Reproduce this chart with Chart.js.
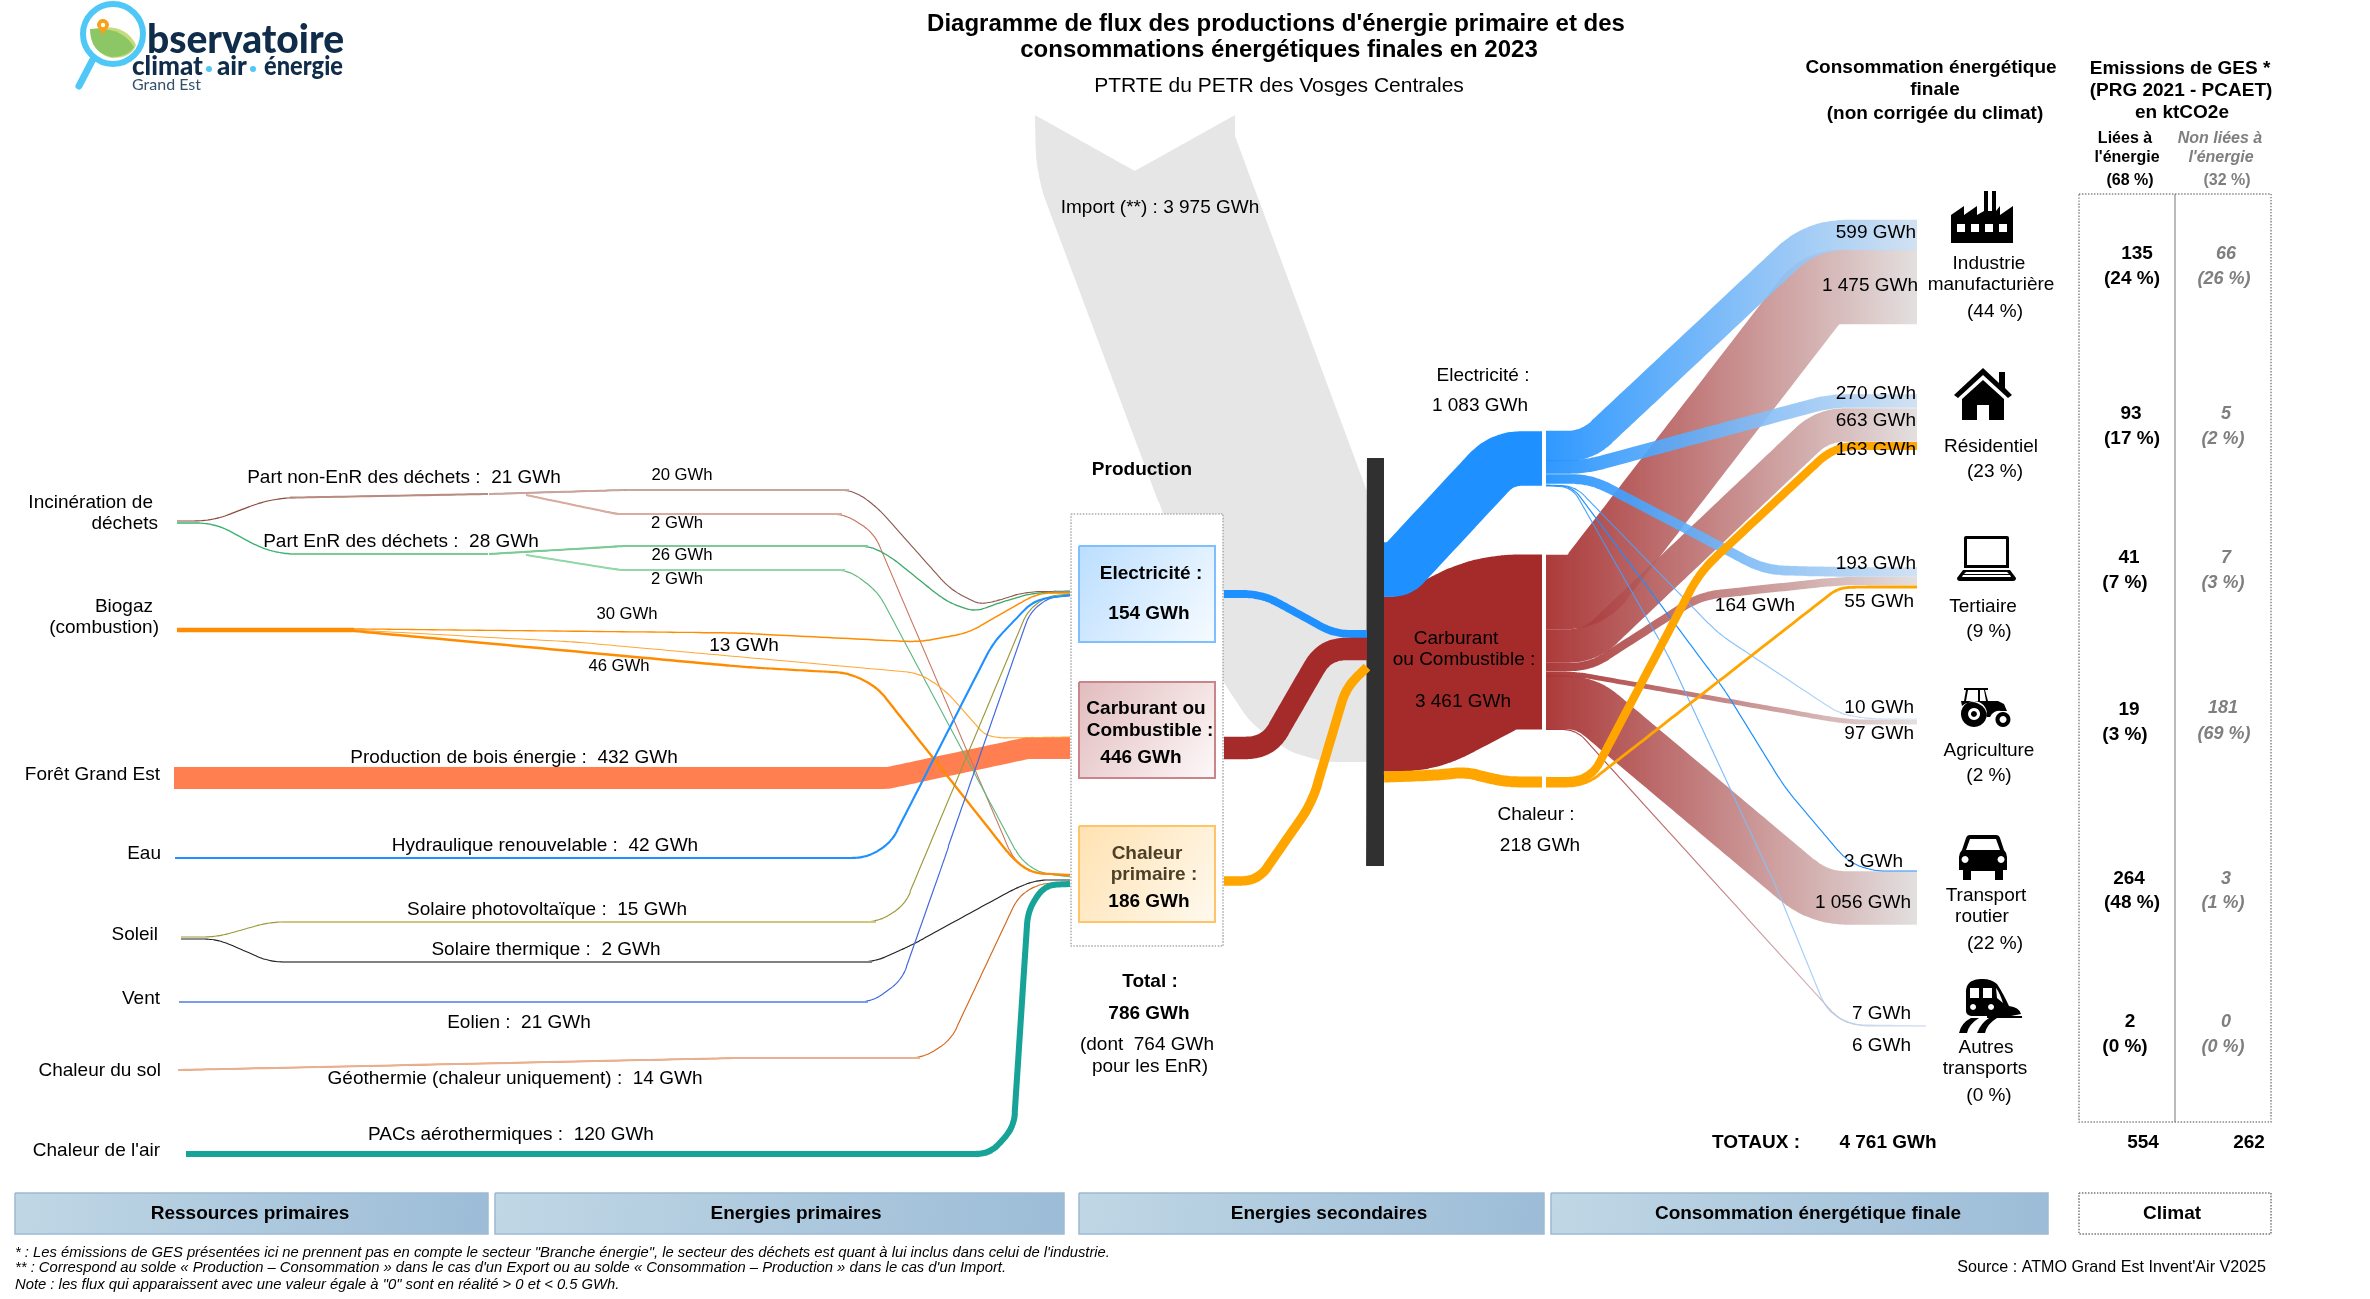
<!DOCTYPE html>
<html lang="fr">
<head>
<meta charset="utf-8">
<title>Diagramme de flux énergie 2023</title>
<script src="https://cdn.jsdelivr.net/npm/chart.js@4/dist/chart.umd.min.js"></script>
<style>
html, body { margin: 0; padding: 0; background: #fff; }
canvas { display: block; }
</style>
</head>
<body>
<canvas id="sankey" width="2370" height="1299"></canvas>
<script>
const wasteNonEnr = [21, 20, 2];
const wasteEnr = [28, 26, 2];
const biogas = [89, 30, 13, 46];
const wood = 432;
const hydro = 42;
const solarPv = 15;
const solarThermal = 2;
const wind = 21;
const geothermal = 14;
const airHeat = 120;
const primaryNames = ['Electricité', 'Carburant ou Combustible', 'Chaleur primaire'];
const primaryValues = [154, 446, 186];
const secondaryValues = [1083, 3461, 218];
const importValue = 3975;
const productionTotal = 786;
const productionEnr = 764;
const finalTotal = 4761;

const sectorLines = [['Industrie', 'manufacturière'], ['Résidentiel'], ['Tertiaire'], ['Agriculture'], ['Transport', 'routier'], ['Autres', 'transports']];
const sectorShare = [44, 23, 9, 2, 22, 0];
const elecBySector = [599, 270, 193, 10, 3, 7];
const fuelBySector = [1475, 663, 164, 97, 1056, 6];
const heatBySector = [163, 55];

const gesEnergy = [135, 93, 41, 19, 264, 2];
const gesEnergyShare = [24, 17, 7, 3, 48, 0];
const gesOther = [66, 5, 7, 181, 3, 0];
const gesOtherShare = [26, 2, 3, 69, 1, 0];
const gesTotals = [554, 262];
const gesSplit = [68, 32];

const stageNames = ['Ressources primaires', 'Energies primaires', 'Energies secondaires', 'Consommation énergétique finale', 'Climat'];

// 19,8 GWh pour un pixel d'épaisseur
const GWH_PER_PX = 19.8;

const canvas = document.getElementById('sankey');
const ctx = canvas.getContext('2d');

function linear(x0, y0, x1, y1, c0, c1) {
    const g = ctx.createLinearGradient(x0, y0, x1, y1);
    g.addColorStop(0, c0);
    g.addColorStop(1, c1);
    return g;
}

// arrondit les angles du tracé
function rounded(pts, r) {
    const out = [{x: pts[0][0], y: pts[0][1]}];
    for (let i = 1; i < pts.length - 1; i++) {
        const [ax, ay] = pts[i - 1], [bx, by] = pts[i], [cx, cy] = pts[i + 1];
        const l1 = Math.hypot(ax - bx, ay - by), l2 = Math.hypot(cx - bx, cy - by);
        const rr = Math.min(r, l1 / 2, l2 / 2);
        const sx = bx + (ax - bx) * rr / l1, sy = by + (ay - by) * rr / l1;
        const ex = bx + (cx - bx) * rr / l2, ey = by + (cy - by) * rr / l2;
        for (let k = 0; k <= 10; k++) {
            const t = k / 10, u = 1 - t;
            out.push({x: u * u * sx + 2 * u * t * bx + t * t * ex, y: u * u * sy + 2 * u * t * by + t * t * ey});
        }
    }
    const last = pts[pts.length - 1];
    out.push({x: last[0], y: last[1]});
    return out;
}

const datasets = [];

function addShape(data, background, extra) {
    datasets.push(Object.assign({type: 'line', data, backgroundColor: background, fill: 'shape'}, extra || {}));
}

function flow(route, value, color, radius) {
    const path = rounded(route, radius === undefined ? 26 : radius);
    const half = Math.max(value / GWH_PER_PX, 1.15) / 2;
    const up = [], down = [];
    path.forEach((p, i) => {
        const a = path[Math.max(i - 1, 0)], b = path[Math.min(i + 1, path.length - 1)];
        const len = Math.hypot(b.x - a.x, b.y - a.y) || 1;
        const nx = (b.y - a.y) / len, ny = -(b.x - a.x) / len;
        up.push({x: p.x + nx * half, y: p.y + ny * half});
        down.unshift({x: p.x - nx * half, y: p.y - ny * half});
    });
    addShape(up.concat(down), color);
}

// partie droite des petits flux : trait plus large et plus clair
function casing(route, color) {
    flow(route, 2.2 * GWH_PER_PX, color, 0);
}

function box(x0, y0, x1, y1, background, border, dash, width) {
    const data = [{x: x0, y: y0}, {x: x1, y: y0}, {x: x1, y: y1}, {x: x0, y: y1}, {x: x0, y: y0}];
    addShape(data, background, {borderColor: border || 'rgba(0,0,0,0)', borderWidth: border ? (width || 2) : 0, borderDash: dash || []});
}

const BLUE = '#1E90FF', BROWN = '#A52A2A', ORANGE = '#FFA500', BIO = '#FF8C00';

// import, en fond
const importTop = [[1035, 115], [1135, 171], [1235, 115], [1235, 136], [1367, 490], [1378, 562], [1380, 562]];
const importBottom = [[1380, 762], [1325, 762], [1290, 752], [1250, 722], [1222, 680], [1163, 513], [1042, 191], [1036, 160], [1035, 115]];
addShape(rounded(importTop, 0).concat(rounded(importBottom, 12)), '#E6E6E6');

box(1071, 514, 1223, 946, '#FFFFFF', '#AAAAAA', [1.5, 1.5], 1.5);
box(1367, 458, 1384, 866, '#303030');

// noeuds de production
box(1079, 546, 1215, 642, linear(1079, 546, 1215, 642, '#BBDEFF', '#F6FBFF'), '#7FBFFF');
box(1079, 682, 1215, 778, linear(1079, 682, 1215, 778, '#E2BCBE', '#FDF8F8'), '#C98589');
box(1079, 826, 1215, 922, linear(1079, 826, 1215, 922, '#FFE2B2', '#FFF9EE'), '#FFC469');

// ressources vers énergies primaires
flow([[174, 778], [888, 778], [1028, 748], [1070, 748]], wood, '#FF7F50', 4);
flow([[177, 521], [212, 521], [272, 498], [488, 494]], wasteNonEnr[0], '#8B4A3F', 24);
casing([[290, 497.7], [488, 494]], '#B98C80');
flow([[489, 494], [625, 490], [853, 490], [877, 507], [951, 590], [979, 604], [993, 602], [1025, 592], [1070, 591]], wasteNonEnr[1], '#8E5A4E', 14);
casing([[489, 494], [625, 490], [849, 490]], '#C9A59E');
flow([[526, 495], [617, 514], [845, 514], [874, 533], [1014, 860], [1032, 873], [1070, 876]], wasteNonEnr[2], '#C8755F', 14);
casing([[526, 495], [617, 514], [842, 514]], '#D8ADA0');
flow([[177, 523], [215, 523], [272, 554], [488, 554]], wasteEnr[0], '#3CB371', 24);
casing([[290, 554], [488, 554]], '#7CCB94');
flow([[489, 554], [625, 546], [870, 546], [891, 557], [947, 602], [975, 612], [996, 604], [1032, 593], [1070, 592]], wasteEnr[1], '#3CA868', 14);
casing([[489, 554], [625, 546], [868, 546]], '#7CCB94');
flow([[526, 555], [620, 570], [849, 570], [878, 592], [1021, 860], [1040, 873], [1070, 877]], wasteEnr[2], '#5FB87E', 14);
casing([[526, 555], [620, 570], [845, 570]], '#94D8AA');
flow([[177, 630], [354, 630]], biogas[0], BIO, 0);
flow([[354, 629], [737, 633], [919, 642], [968, 633], [1038, 593], [1070, 593]], biogas[1], BIO, 14);
flow([[354, 630], [575, 642], [919, 673], [945, 690], [985, 735], [1000, 738], [1070, 737]], biogas[2], '#FFA733', 14);
flow([[354, 631], [744, 667], [849, 673], [877, 687], [1014, 860], [1032, 873], [1070, 875]], biogas[3], BIO, 14);
flow([[181, 937], [217, 937], [270, 922], [878, 922], [905, 905], [1028, 610], [1048, 596], [1070, 594]], solarPv, '#9E9A3A', 14);
casing([[282, 922], [876, 922]], '#CFC77F');
flow([[181, 939], [217, 939], [270, 962], [874, 962], [912, 945], [1018, 887], [1038, 880], [1070, 880]], solarThermal, '#222222', 14);
casing([[282, 962], [872, 962]], '#808080');
flow([[179, 1002], [872, 1002], [902, 980], [944, 860], [1030, 612], [1050, 597], [1070, 596]], wind, '#4169E1', 14);
casing([[179, 1002], [868, 1002]], '#7C9CEB');
flow([[178, 1070], [737, 1058], [923, 1058], [951, 1040], [1018, 897], [1038, 884], [1070, 882]], geothermal, '#D2691E', 14);
casing([[178, 1070], [737, 1058], [920, 1058]], '#E8B090');
flow([[175, 858], [866, 858], [891, 843], [993, 643], [1034, 600], [1070, 595]], hydro, BLUE, 14);
flow([[186, 1154], [990, 1154], [1014, 1127], [1028, 910], [1045, 885], [1070, 884]], airHeat, '#17A398', 14);

// énergies primaires vers la barre
flow([[1224, 594], [1262, 594], [1335, 634], [1367, 634]], primaryValues[0], BLUE, 22);
flow([[1224, 748], [1268, 748], [1325, 649], [1367, 649]], primaryValues[1], BROWN, 28);
flow([[1224, 881], [1258, 881], [1312, 803], [1346, 688], [1367, 667]], primaryValues[2], ORANGE, 20);

// énergies secondaires
flow([[1384, 684], [1415, 684], [1495, 642], [1542, 642]], secondaryValues[1], BROWN, 40);
flow([[1384, 569.5], [1399, 569.5], [1502, 458.5], [1542, 458.5]], secondaryValues[0], BLUE, 32);
flow([[1384, 777], [1440, 775], [1465, 772], [1505, 782], [1542, 782]], secondaryValues[2], ORANGE, 16);

// vers la consommation finale
function fade(c0, c1) { return linear(1546, 0, 1917, 0, c0, c1); }
const fuelFade = fade('rgba(165,42,42,0.92)', 'rgba(226,222,222,0.95)');
const elecFade = fade('rgba(30,144,255,0.92)', 'rgba(205,222,240,0.9)');

flow([[1546, 592], [1586, 592], [1821, 287], [1917, 287]], fuelBySector[0], fuelFade, 20);
flow([[1546, 646], [1590, 646], [1823, 425], [1917, 425]], fuelBySector[1], fuelFade, 22);
flow([[1546, 702.5], [1586, 702.5], [1819, 898], [1917, 898]], fuelBySector[4], fuelFade, 28);
flow([[1546, 667], [1590, 667], [1700, 596], [1840, 581], [1917, 581]], fuelBySector[2], fuelFade, 20);
flow([[1546, 674], [1576, 674], [1847, 722], [1917, 722]], fuelBySector[3], fuelFade, 20);
flow([[1546, 729.5], [1576, 729.5], [1840, 1020], [1860, 1026], [1926, 1026]], fuelBySector[5], fuelFade, 14);

flow([[1546, 446], [1587, 446], [1812, 235], [1917, 235]], elecBySector[0], elecFade, 34);
flow([[1546, 467], [1585, 467], [1830, 401], [1917, 401]], elecBySector[1], elecFade, 18);
flow([[1546, 479], [1591, 479], [1765, 570], [1840, 572], [1917, 572]], elecBySector[2], elecFade, 20);
flow([[1546, 485], [1575, 486], [1719, 634], [1840, 714], [1870, 719], [1917, 719]], elecBySector[3], fade('rgba(30,144,255,0.9)', 'rgba(215,228,245,0.9)'), 14);
flow([[1546, 485.5], [1572, 486], [1724, 689], [1786, 789], [1847, 861], [1872, 871], [1917, 871]], elecBySector[4], BLUE, 14);
flow([[1546, 486], [1572, 487], [1668, 655], [1775, 884], [1827, 1011], [1852, 1025], [1926, 1026]], elecBySector[5], fade('rgba(30,144,255,0.9)', 'rgba(210,225,245,0.9)'), 14);

flow([[1546, 781], [1590, 781], [1700, 572], [1835, 446], [1917, 446]], heatBySector[0], ORANGE, 22);
flow([[1546, 786], [1585, 786], [1838, 588], [1860, 587], [1917, 587]], heatBySector[1], ORANGE, 18);

// bandeaux du bas et cadre des émissions
[[15, 488], [495, 1064], [1079, 1544], [1551, 2048]].forEach(([a, b]) => {
    box(a, 1193, b, 1234, linear(a, 1193, b, 1234, '#C0D7E5', '#9CBCD7'), '#9DBAD2', [], 1.5);
});
box(2079, 1193, 2271, 1234, '#FFFFFF', '#777777', [1.5, 1.5], 1.5);
box(2079, 194, 2271, 1122, 'rgba(255,255,255,0)', '#888888', [1.5, 1.5], 1.5);
box(2174.5, 194, 2175.5, 1122, '#777777');

// première série = dessinée en dernier avec Chart.js
datasets.reverse();

function gwh(v) {
    return String(v).replace(/\B(?=(\d{3})+$)/g, ' ') + ' GWh';
}

const SANS = '"Liberation Sans", Arial, sans-serif';
const FONT = {
    reg: '19px ' + SANS,
    small: '16.7px ' + SANS,
    bold: 'bold 19px ' + SANS,
    head: 'bold 19px ' + SANS,
    title: 'bold 24px ' + SANS,
    sub: '21px ' + SANS,
    mini: 'bold 16px ' + SANS,
    miniIt: 'italic bold 16px ' + SANS,
    ges: 'bold 19px ' + SANS,
    gesIt: 'italic bold 18px ' + SANS,
    note: 'italic 14.8px ' + SANS,
    source: '16.1px ' + SANS
};
const GREY = '#7F7F7F';

// [texte, x, y, police, alignement, couleur]
const texts = [
    ['Diagramme de flux des productions d\'énergie primaire et des', 1276, 24, 'title'],
    ['consommations énergétiques finales en 2023', 1279, 50, 'title'],
    ['PTRTE du PETR des Vosges Centrales', 1279, 86, 'sub'],

    ['Incinération de', 153, 502, 'reg', 'right'],
    ['déchets', 158, 523, 'reg', 'right'],
    ['Biogaz', 153, 606, 'reg', 'right'],
    ['(combustion)', 159, 627, 'reg', 'right'],
    ['Forêt Grand Est', 160, 774, 'reg', 'right'],
    ['Eau', 161, 853, 'reg', 'right'],
    ['Soleil', 158, 934, 'reg', 'right'],
    ['Vent', 160, 998, 'reg', 'right'],
    ['Chaleur du sol', 161, 1070, 'reg', 'right'],
    ['Chaleur de l\'air', 160, 1150, 'reg', 'right'],

    ['Part non-EnR des déchets :  ' + gwh(wasteNonEnr[0]), 404, 477, 'reg'],
    ['Part EnR des déchets :  ' + gwh(wasteEnr[0]), 401, 541, 'reg'],
    [gwh(wasteNonEnr[1]), 682, 475, 'small'],
    [gwh(wasteNonEnr[2]), 677, 523, 'small'],
    [gwh(wasteEnr[1]), 682, 555, 'small'],
    [gwh(wasteEnr[2]), 677, 579, 'small'],
    [gwh(biogas[1]), 627, 614, 'small'],
    [gwh(biogas[2]), 744, 645, 'reg'],
    [gwh(biogas[3]), 619, 666, 'small'],
    ['Production de bois énergie :  ' + gwh(wood), 514, 757, 'reg'],
    ['Hydraulique renouvelable :  ' + gwh(hydro), 545, 845, 'reg'],
    ['Solaire photovoltaïque :  ' + gwh(solarPv), 547, 909, 'reg'],
    ['Solaire thermique :  ' + gwh(solarThermal), 546, 949, 'reg'],
    ['Eolien :  ' + gwh(wind), 519, 1022, 'reg'],
    ['Géothermie (chaleur uniquement) :  ' + gwh(geothermal), 515, 1078, 'reg'],
    ['PACs aérothermiques :  ' + gwh(airHeat), 511, 1134, 'reg'],

    ['Production', 1142, 469, 'bold'],
    [primaryNames[0] + ' :', 1151, 573, 'bold'],
    [gwh(primaryValues[0]), 1149, 613, 'bold'],
    ['Carburant ou', 1146, 708, 'bold'],
    ['Combustible :', 1150, 730, 'bold'],
    [gwh(primaryValues[1]), 1141, 757, 'bold'],
    ['Chaleur', 1147, 853, 'bold', 'center', '#4D4027'],
    ['primaire :', 1154, 874, 'bold', 'center', '#4D4027'],
    [gwh(primaryValues[2]), 1149, 901, 'bold'],
    ['Total :', 1150, 981, 'bold'],
    [gwh(productionTotal), 1149, 1013, 'bold'],
    ['(dont  ' + gwh(productionEnr), 1147, 1044, 'reg'],
    ['pour les EnR)', 1150, 1066, 'reg'],

    ['Import (**) : ' + gwh(importValue), 1160, 207, 'reg'],
    ['Electricité :', 1483, 375, 'reg'],
    [gwh(secondaryValues[0]), 1480, 405, 'reg'],
    ['Carburant', 1456, 638, 'reg'],
    ['ou Combustible :', 1464, 659, 'reg'],
    [gwh(secondaryValues[1]), 1463, 701, 'reg'],
    ['Chaleur :', 1536, 814, 'reg'],
    [gwh(secondaryValues[2]), 1540, 845, 'reg'],

    [gwh(elecBySector[0]), 1916, 232, 'reg', 'right'],
    [gwh(fuelBySector[0]), 1918, 285, 'reg', 'right'],
    [gwh(elecBySector[1]), 1916, 393, 'reg', 'right'],
    [gwh(fuelBySector[1]), 1916, 420, 'reg', 'right'],
    [gwh(heatBySector[0]), 1916, 449, 'reg', 'right'],
    [gwh(elecBySector[2]), 1916, 563, 'reg', 'right'],
    [gwh(fuelBySector[2]), 1755, 605, 'reg'],
    [gwh(heatBySector[1]), 1914, 601, 'reg', 'right'],
    [gwh(elecBySector[3]), 1914, 707, 'reg', 'right'],
    [gwh(fuelBySector[3]), 1914, 733, 'reg', 'right'],
    [gwh(elecBySector[4]), 1903, 861, 'reg', 'right'],
    [gwh(fuelBySector[4]), 1911, 902, 'reg', 'right'],
    [gwh(elecBySector[5]), 1911, 1013, 'reg', 'right'],
    [gwh(fuelBySector[5]), 1911, 1045, 'reg', 'right'],

    ['Consommation énergétique', 1931, 67, 'head'],
    ['finale', 1935, 89, 'head'],
    ['(non corrigée du climat)', 1935, 113, 'head'],
    ['Emissions de GES *', 2180, 68, 'head'],
    ['(PRG 2021 - PCAET)', 2181, 90, 'head'],
    ['en ktCO2e', 2182, 112, 'head'],
    ['Liées à', 2125, 138, 'mini'],
    ['l\'énergie', 2127, 157, 'mini'],
    ['(' + gesSplit[0] + ' %)', 2130, 180, 'mini'],
    ['Non liées à', 2220, 138, 'miniIt', 'center', GREY],
    ['l\'énergie', 2221, 157, 'miniIt', 'center', GREY],
    ['(' + gesSplit[1] + ' %)', 2227, 180, 'mini', 'center', GREY],

    ['TOTAUX :', 1756, 1142, 'bold'],
    [gwh(finalTotal), 1888, 1142, 'bold'],
    [String(gesTotals[0]), 2143, 1142, 'bold'],
    [String(gesTotals[1]), 2249, 1142, 'bold'],

    [stageNames[0], 250, 1213, 'bold'],
    [stageNames[1], 796, 1213, 'bold'],
    [stageNames[2], 1329, 1213, 'bold'],
    [stageNames[3], 1808, 1213, 'bold'],
    [stageNames[4], 2172, 1213, 'bold'],

    ['* : Les émissions de GES présentées ici ne prennent pas en compte le secteur "Branche énergie", le secteur des déchets est quant à lui inclus dans celui de l\'industrie.', 15, 1252, 'note', 'left'],
    ['** : Correspond au solde « Production – Consommation » dans le cas d\'un Export ou au solde « Consommation – Production » dans le cas d\'un Import.', 15, 1267, 'note', 'left'],
    ['Note : les flux qui apparaissent avec une valeur égale à "0" sont en réalité > 0 et < 0.5 GWh.', 15, 1284, 'note', 'left'],
    ['Source : ATMO Grand Est Invent\'Air V2025', 2266, 1267, 'source', 'right']
];

// libellés des secteurs : [x, y] ligne par ligne, puis la part
const sectorNamePos = [[[1989, 263], [1991, 284]], [[1991, 446]], [[1983, 606]], [[1989, 750]], [[1986, 895], [1982, 916]], [[1986, 1047], [1985, 1068]]];
const sectorSharePos = [[1995, 311], [1995, 471], [1989, 631], [1989, 775], [1995, 943], [1989, 1095]];
sectorLines.forEach((lines, i) => {
    lines.forEach((line, j) => texts.push([line, sectorNamePos[i][j][0], sectorNamePos[i][j][1], 'reg']));
    texts.push(['(' + sectorShare[i] + ' %)', sectorSharePos[i][0], sectorSharePos[i][1], 'reg']);
});

// émissions par secteur
const gesRowY = [[253, 278], [413, 438], [557, 582], [709, 734], [878, 902], [1021, 1046]];
const gesValX = [2137, 2131, 2129, 2129, 2129, 2130];
const gesPctX = [2132, 2132, 2125, 2125, 2132, 2125];
const gesOtherValX = [2226, 2226, 2226, 2223, 2226, 2226];
const gesOtherPctX = [2224, 2223, 2223, 2224, 2223, 2223];
gesEnergy.forEach((v, i) => {
    const y = gesRowY[i];
    texts.push([String(v), gesValX[i], y[0], 'ges']);
    texts.push(['(' + gesEnergyShare[i] + ' %)', gesPctX[i], y[1], 'ges']);
    texts.push([String(gesOther[i]), gesOtherValX[i], y[0] - (i === 3 ? 2 : 0), 'gesIt', 'center', GREY]);
    texts.push(['(' + gesOtherShare[i] + ' %)', gesOtherPctX[i], y[1] - (i === 3 ? 1 : 0), 'gesIt', 'center', GREY]);
});

// pictogrammes : [x, y, largeur, hauteur du dessin, chemin]
const icons = [
    [1951, 191, 62, 52, 'M0 52V24L13 15V24L26 15V24L33 20V0H37V20H41V0H45V20L49 15V24L62 15V52ZM6 33V41H14V33ZM20 33V41H28V33ZM34 33V41H42V33ZM48 33V41H56V33Z'],
    [1954, 368, 58, 52, 'M0 27L29 0L45 15V4H51V20L58 27L54 30L29 7L4 30ZM8 31L29 12L50 31V52H35V37H23V52H8Z'],
    [1957, 536, 59, 45, 'M9 0H50Q52 0 52 2V32H7V2Q7 0 9 0ZM10 3V29H49V3ZM6 34H53L59 42Q59 45 56 45H3Q0 45 0 42ZM9 36L7 38H52L50 36ZM6 39L5 41H54L53 39Z'],
    [1957, 688, 55, 39, 'M7 0H31V2H28L31 13H41L47 16L50 23H44A10 10 0 0 0 33 29H30A15 15 0 0 0 5 18L4 13H7L9 2H7ZM11 2L9 13H21V2ZM23 2V13H29L27 2ZM17 13A13 13 0 1 1 16.9 13ZM17 20A6 6 0 1 0 17.1 20ZM17 23A3 3 0 1 1 16.9 23ZM46 24A7.5 7.5 0 1 1 45.9 24ZM46 28A3.5 3.5 0 1 0 46.1 28Z'],
    [1959, 835, 48, 45, 'M11 0H37Q40 0 41 3L45 15Q48 18 48 22V35H44V45H36V36H12V45H4V35H0V22Q0 18 3 15L7 3Q8 0 11 0ZM11 4L7 15H41L37 4ZM6 21A3.5 3.5 0 1 0 6.1 21ZM42 21A3.5 3.5 0 1 0 42.1 21Z'],
    [1959, 979, 63, 54, 'M24 0C10 0 7 6 7 14V32Q7 36 12 37H52L62 35Q60 28 50 27Q44 14 38 5Q32 0 24 0ZM11 9H20V19H11ZM24 9H33V19H24ZM37 9Q41 14 44 24L38 19ZM14 25A3 3 0 1 0 14.1 25ZM32 25A3 3 0 1 0 32.1 25ZM0 54Q2 44 12 39H20Q10 45 8 54ZM18 54Q22 44 30 39H38Q28 45 26 54ZM28 39H63V37H28Z']
];

function drawLogo(c) {
    c.save();
    c.lineCap = 'round';
    c.strokeStyle = '#4FC7F7';
    c.lineWidth = 7;
    c.beginPath();
    c.moveTo(92, 61);
    c.lineTo(79, 86);
    c.stroke();
    c.lineWidth = 6;
    c.beginPath();
    c.arc(113, 34, 30, 0, Math.PI * 2);
    c.stroke();
    c.fillStyle = '#C6DB7C';
    c.beginPath();
    c.moveTo(92, 29);
    c.quadraticCurveTo(125, 22, 136, 45);
    c.quadraticCurveTo(132, 58, 112, 58);
    c.quadraticCurveTo(92, 54, 92, 29);
    c.fill();
    c.fillStyle = '#8CC665';
    c.beginPath();
    c.moveTo(90, 29);
    c.quadraticCurveTo(122, 26, 134, 47);
    c.quadraticCurveTo(128, 57, 111, 57);
    c.quadraticCurveTo(90, 52, 90, 29);
    c.fill();
    c.fillStyle = '#F7A11B';
    c.beginPath();
    c.arc(103, 25, 6, Math.PI * 0.95, Math.PI * 2.05);
    c.lineTo(103, 35);
    c.closePath();
    c.fill();
    c.fillStyle = '#FFFFFF';
    c.beginPath();
    c.arc(103, 25, 2.2, 0, Math.PI * 2);
    c.fill();
    c.restore();
    c.save();
    c.fillStyle = '#0F2C4A';
    c.textAlign = 'left';
    c.textBaseline = 'alphabetic';
    c.font = '900 39px Lato, sans-serif';
    c.fillText('bservatoire', 147, 53, 197);
    c.font = '900 26px Lato, sans-serif';
    c.fillText('climat', 132, 75, 71);
    c.fillText('air', 217, 75, 31);
    c.fillText('énergie', 264, 75, 79);
    c.font = '16px Lato, sans-serif';
    c.fillStyle = '#33506B';
    c.fillText('Grand Est', 132, 90);
    c.fillStyle = '#4FC7F7';
    c.beginPath();
    c.arc(209, 69, 3, 0, Math.PI * 2);
    c.arc(253, 69, 3, 0, Math.PI * 2);
    c.fill();
    c.restore();
}

const TEXT_SHIFT = 0.7;

const overlay = {
    id: 'overlay',
    afterDatasetsDraw(chart) {
        const c = chart.ctx;
        const px = chart.scales.x, py = chart.scales.y;
        drawLogo(c);
        icons.forEach(([x, y, w, h, d]) => {
            c.save();
            c.translate(px.getPixelForValue(x), py.getPixelForValue(y));
            c.fillStyle = '#000000';
            c.fill(new Path2D(d), 'evenodd');
            c.restore();
        });
        c.textBaseline = 'middle';
        texts.forEach(([text, x, y, font, align, color]) => {
            c.font = FONT[font];
            c.textAlign = align || 'center';
            c.fillStyle = color || '#000000';
            c.fillText(text, px.getPixelForValue(x), py.getPixelForValue(y + TEXT_SHIFT));
        });
    }
};

new Chart(ctx, {
    type: 'line',
    data: {datasets},
    plugins: [overlay],
    options: {
        responsive: false,
        animation: false,
        events: [],
        layout: {padding: 0},
        elements: {
            point: {radius: 0},
            line: {tension: 0.0001, borderWidth: 0, borderColor: 'rgba(0,0,0,0)'}
        },
        plugins: {legend: {display: false}, tooltip: {enabled: false}, title: {display: false}},
        scales: {
            x: {type: 'linear', min: 0, max: 2370, display: false},
            y: {type: 'linear', min: 0, max: 1299, reverse: true, display: false}
        }
    }
});
</script>
</body>
</html>
